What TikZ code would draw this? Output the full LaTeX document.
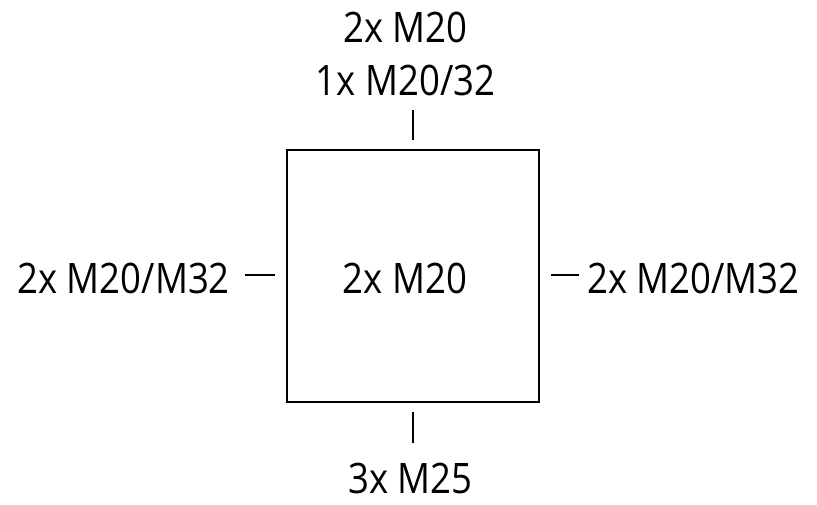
\documentclass[tikz,border=0pt]{standalone}
\usepackage{fontspec}
\setmainfont[FakeStretch=0.87]{Open Sans}
\begin{document}
\begin{tikzpicture}[x=1pt,y=-1pt,
  lbl/.style={inner sep=0pt,font=\fontsize{42}{42}\selectfont,anchor=base},
  tick/.style={line width=2.6pt},
  boxst/.style={draw,line width=2pt,inner sep=0pt}]
\useasboundingbox (0,0) rectangle (817,504);
\node[boxst,minimum width=252pt,minimum height=252pt] (box) at (413,276) {};
\node[lbl] (c) at (405,293) {2x M20};
\node[lbl] (t1) at (405.5,42) {2x M20};
\node[lbl] (t2) at (405.5,95) {1x M20/32};
\node[lbl] (b) at (410.5,493) {3x M25};
\node[lbl,anchor=base east] (l) at (230,293) {2x M20/M32};
\node[lbl,anchor=base west] (r) at (587,293) {2x M20/M32};
\coordinate (ta) at (413,110); \coordinate (tb) at (413,140);
\coordinate (ba) at (413,412); \coordinate (bb) at (413,443);
\coordinate (la) at (245,275); \coordinate (lb) at (275,275);
\coordinate (ra) at (551,275); \coordinate (rb) at (579,275);
\draw[tick] (ta) -- (tb);
\draw[tick] (ba) -- (bb);
\draw[tick] (la) -- (lb);
\draw[tick] (ra) -- (rb);
\end{tikzpicture}
\end{document}
